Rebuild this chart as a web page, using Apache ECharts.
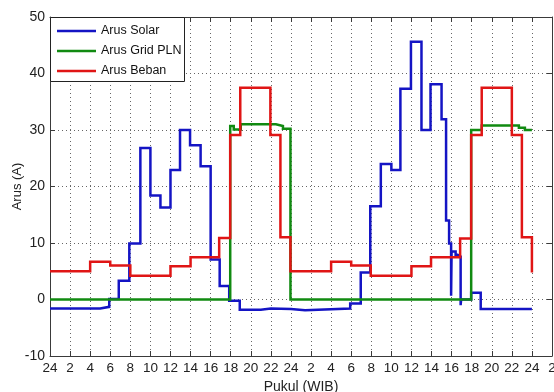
<!DOCTYPE html>
<html>
<head>
<meta charset="utf-8">
<script src="https://cdn.jsdelivr.net/npm/echarts@6/dist/echarts.min.js"></script>
<style>
html,body{margin:0;padding:0;background:#fff;}
#chart{width:554px;height:392px;}
</style>
</head>
<body>
<div id="chart"></div>
<script>
// ---- data (hours since start of day 1; value holds until next breakpoint) ----
const solarT = [0, 5, 5.9, 6.85, 7.9, 9.0, 10.0, 11.0, 12.0, 12.95, 13.95, 15.0, 16.0, 16.9, 17.85, 18.9, 21, 22, 24, 25.4, 29.9, 30.95, 31.9, 32.95, 34.0, 34.9, 35.95, 37.0, 37.9, 39.0, 39.45, 39.75, 39.95, 40.0, 40.4, 40.6, 40.9, 40.95, 41.95, 42.9, 48];
const solarA = [-1.6, -1.3, 0.1, 3.3, 9.9, 26.8, 18.4, 16.3, 22.9, 30.0, 27.3, 23.6, 7.1, 2.4, -0.2, -1.8, -1.6, -1.7, -1.9, -1.6, -0.7, 4.8, 16.5, 24.0, 22.9, 37.3, 45.6, 30.0, 38.1, 31.9, 14.0, 9.9, 0.65, 8.5, 7.9, 7.6, -1.0, 0, 1.2, -1.7, -1.7];

const gridT = [0, 17.95, 18.3, 19.0, 22.5, 23.2, 23.95, 41.95, 43.0, 46.7, 47.3, 48];
const gridA = [0, 30.7, 30.1, 31.0, 30.7, 30.2, 0, 30.0, 30.8, 30.4, 30.0, 30.0];

const loadT = [0, 4, 6, 8, 12, 14, 16.85, 17.95, 18.95, 21.95, 22.95, 23.95, 28, 30, 31.95, 36, 37.95, 40.85, 41.95, 43.0, 46.0, 47.0, 48];
const loadA = [5.0, 6.7, 6.0, 4.2, 5.9, 7.5, 10.9, 29.1, 37.5, 29.1, 11.0, 5.0, 6.7, 6.0, 4.2, 5.9, 7.5, 10.8, 29.1, 37.5, 29.1, 11.0, 4.8];

const seriesNames = ['Arus Solar', 'Arus Grid PLN', 'Arus Beban'];
const seriesColors = ['#1414c4', '#118a11', '#e01515'];
const xTickStep = 2;
const yTicks = [-10, 0, 10, 20, 30, 40, 50];
const xName = 'Pukul (WIB)';
const yName = 'Arus (A)';

function pairs(t, a) { return t.map((v, i) => [v, a[i]]); }
const hourLabel = v => { const h = v % 24; return String(h === 0 ? 24 : h); };

const FONT = "'Liberation Sans', Arial, sans-serif";
const axisColor = '#3a3a3a';

const chart = echarts.init(document.getElementById('chart'), null, {renderer: 'canvas'});

const xBase = {
  type: 'value', min: 0, max: 50, interval: xTickStep,
  axisLine: {show: true, onZero: false, lineStyle: {color: axisColor, width: 1}},
  axisTick: {show: true, inside: true, length: 5, lineStyle: {color: axisColor}},
};
const yBase = {
  type: 'value', min: yTicks[0], max: yTicks[yTicks.length - 1], interval: 10,
  axisLine: {show: true, onZero: false, lineStyle: {color: axisColor, width: 1}},
  axisTick: {show: true, inside: true, length: 5, lineStyle: {color: axisColor}},
};

const data = [pairs(solarT, solarA), pairs(gridT, gridA), pairs(loadT, loadA)];

chart.setOption({
  animation: false,
  backgroundColor: '#fff',
  textStyle: {fontFamily: FONT},
  grid: {left: 50, top: 17, right: 2, bottom: 36, containLabel: false, outerBoundsMode: 'none'},
  graphic: [{
    type: 'rect', left: 50, top: 17, z: 3,
    shape: {width: 134, height: 64},
    style: {fill: '#fff', stroke: '#222', lineWidth: 1}
  }],
  legend: {
    show: true, orient: 'vertical', left: 51, top: 17, z: 10,
    padding: [6, 6, 3, 6],
    icon: 'rect',
    itemWidth: 39, itemHeight: 2.5, itemGap: 4,
    textStyle: {fontFamily: FONT, fontSize: 12.5, lineHeight: 16, color: '#111'},
    data: seriesNames
  },
  xAxis: [
    Object.assign({}, xBase, {
      position: 'bottom',
      name: xName, nameLocation: 'middle', nameGap: 18,
      nameTextStyle: {fontFamily: FONT, fontSize: 14, color: '#222'},
      axisLabel: {show: true, margin: 5, fontSize: 13.5, color: '#222', fontFamily: FONT, formatter: hourLabel, showMaxLabel: true, showMinLabel: true, hideOverlap: false},
      splitLine: {show: true, lineStyle: {color: '#666', width: 1, type: [1, 3]}}
    }),
    Object.assign({}, xBase, {
      position: 'top', axisLabel: {show: false}, splitLine: {show: false}
    })
  ],
  yAxis: [
    Object.assign({}, yBase, {
      position: 'left',
      name: yName, nameLocation: 'middle', nameGap: 26, nameRotate: 90, nameMoveOverlap: false,
      nameTextStyle: {fontFamily: FONT, fontSize: 13, color: '#222'},
      axisLabel: {show: true, margin: 5, fontSize: 14, color: '#222', fontFamily: FONT},
      splitLine: {show: true, lineStyle: {color: '#666', width: 1, type: [1, 3]}}
    }),
    Object.assign({}, yBase, {
      position: 'right', axisLabel: {show: false}, splitLine: {show: false}
    })
  ],
  series: seriesNames.map((n, i) => ({
    name: n, type: 'line', step: 'end', data: data[i],
    xAxisIndex: 0, yAxisIndex: 0,
    symbol: 'none', showSymbol: false, z: 2,
    color: seriesColors[i],
    lineStyle: {color: seriesColors[i], width: 2.5, join: 'miter'}
  }))
});
</script>
</body>
</html>
